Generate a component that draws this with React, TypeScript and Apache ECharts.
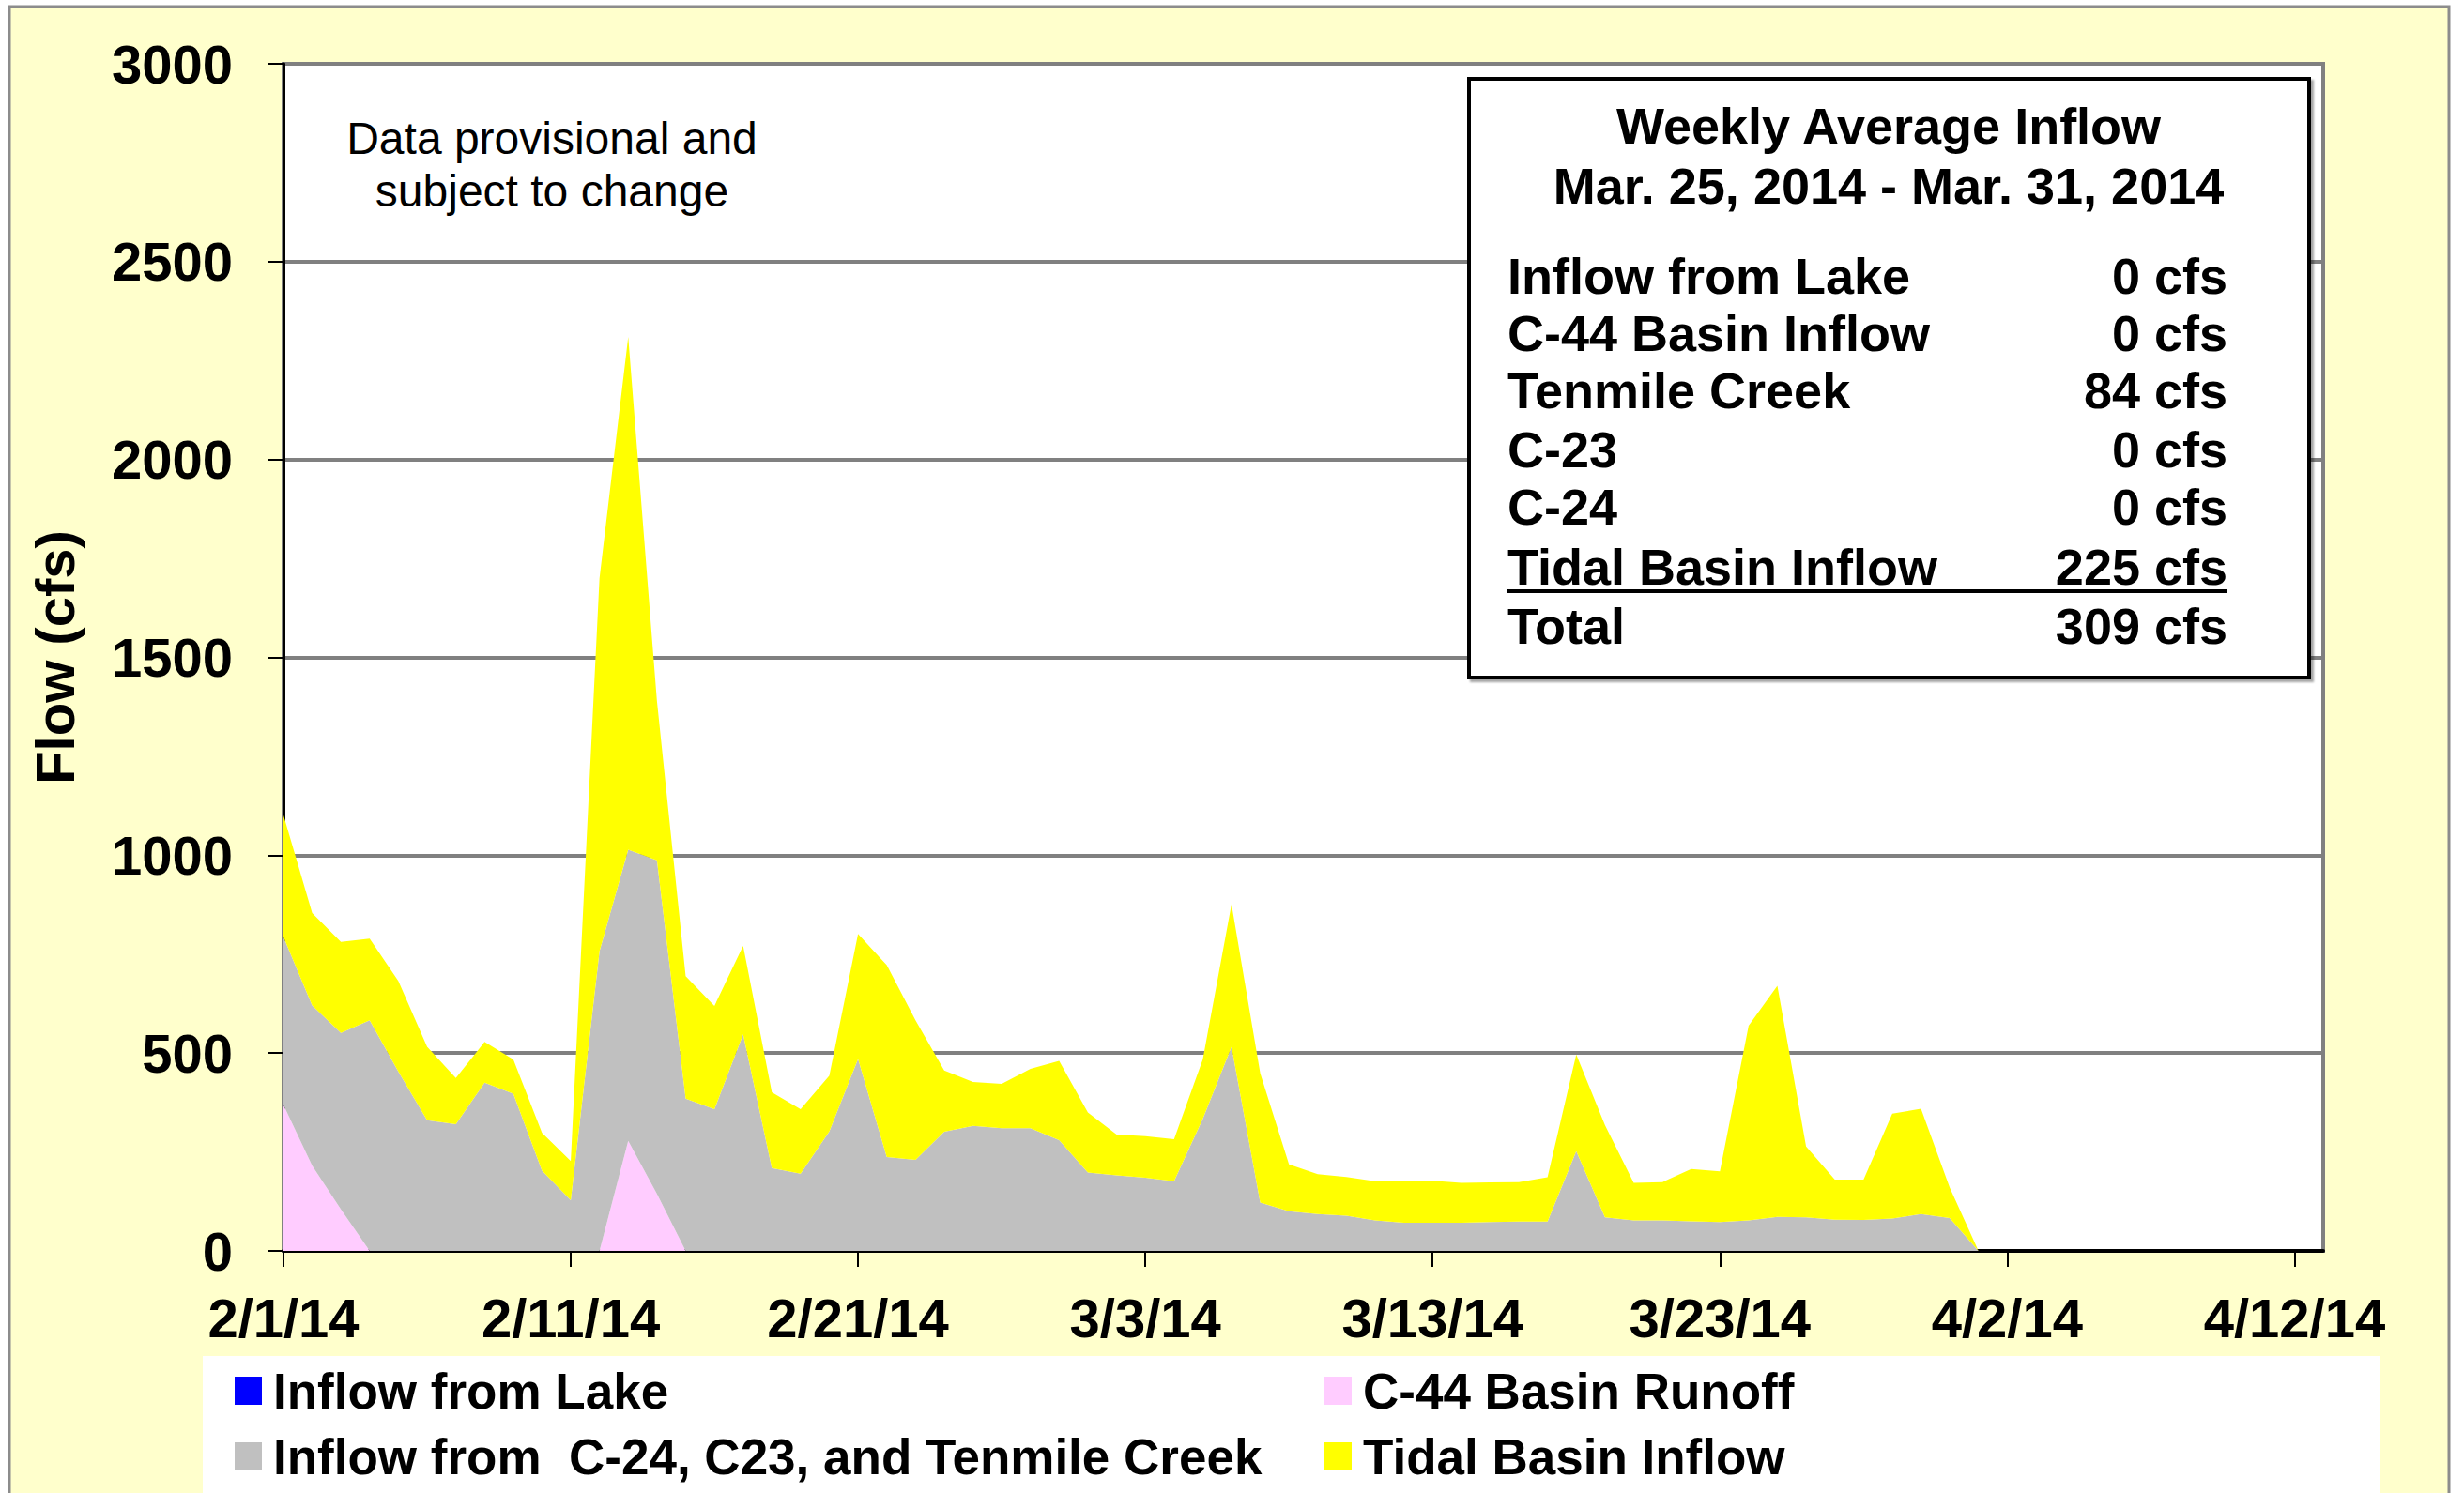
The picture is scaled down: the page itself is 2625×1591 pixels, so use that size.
import React, { useEffect, useRef } from "react";
import * as echarts from "echarts";

const FONT = '"Liberation Sans", Arial, sans-serif';

// Daily categories, 2/1/14 through 4/13/14 (axis extent)
const days = [
  "2/1/14", "2/2/14", "2/3/14", "2/4/14", "2/5/14", "2/6/14", "2/7/14", "2/8/14", "2/9/14", "2/10/14",
  "2/11/14", "2/12/14", "2/13/14", "2/14/14", "2/15/14", "2/16/14", "2/17/14", "2/18/14", "2/19/14", "2/20/14",
  "2/21/14", "2/22/14", "2/23/14", "2/24/14", "2/25/14", "2/26/14", "2/27/14", "2/28/14", "3/1/14", "3/2/14",
  "3/3/14", "3/4/14", "3/5/14", "3/6/14", "3/7/14", "3/8/14", "3/9/14", "3/10/14", "3/11/14", "3/12/14",
  "3/13/14", "3/14/14", "3/15/14", "3/16/14", "3/17/14", "3/18/14", "3/19/14", "3/20/14", "3/21/14", "3/22/14",
  "3/23/14", "3/24/14", "3/25/14", "3/26/14", "3/27/14", "3/28/14", "3/29/14", "3/30/14", "3/31/14", "4/1/14",
  "4/2/14", "4/3/14", "4/4/14", "4/5/14", "4/6/14", "4/7/14", "4/8/14", "4/9/14", "4/10/14", "4/11/14",
  "4/12/14", "4/13/14",
];

// Inflow from Lake (cfs), 2/1 - 4/1
const lakeInflow = [
  0, 0, 0, 0, 0, 0, 0, 0, 0, 0, 0, 0, 0, 0, 0, 0, 0, 0, 0, 0,
  0, 0, 0, 0, 0, 0, 0, 0, 0, 0, 0, 0, 0, 0, 0, 0, 0, 0, 0, 0,
  0, 0, 0, 0, 0, 0, 0, 0, 0, 0, 0, 0, 0, 0, 0, 0, 0, 0, 0, 0,
];

// C-44 Basin Runoff (cfs)
const c44Runoff = [
  369, 215, 105, 0, 0, 0, 0, 0, 0, 0, 0, 0, 278, 144, 0, 0, 0, 0, 0, 0,
  0, 0, 0, 0, 0, 0, 0, 0, 0, 0, 0, 0, 0, 0, 0, 0, 0, 0, 0, 0,
  0, 0, 0, 0, 0, 0, 0, 0, 0, 0, 0, 0, 0, 0, 0, 0, 0, 0, 0, 0,
];

// Inflow from C-24, C-23 and Tenmile Creek (cfs)
const basinInflow = [
  424, 405, 446, 583, 453, 330, 320, 425, 397, 203, 128, 757, 736, 843, 385, 358, 547, 209, 195, 302,
  485, 237, 230, 301, 316, 310, 310, 280, 198, 191, 185, 176, 334, 516, 122, 100, 93, 89, 77, 71,
  71, 71, 73, 74, 74, 252, 85, 77, 77, 75, 73, 77, 86, 85, 79, 78, 82, 93, 83, 0,
];

// Tidal Basin Inflow (cfs)
const tidalInflow = [
  308, 234, 230, 206, 229, 186, 117, 103, 87, 95, 99, 943, 1296, 403, 309, 261, 224, 192, 163, 141,
  316, 485, 353, 155, 111, 112, 150, 200, 152, 103, 105, 106, 150, 360, 327, 119, 101, 98, 99, 106,
  106, 101, 100, 100, 112, 244, 233, 95, 97, 132, 128, 492, 584, 179, 101, 102, 265, 266, 77, 0,
];

const yTicks = [0, 500, 1000, 1500, 2000, 2500, 3000];

const seriesNames = [
  "Inflow from Lake",
  "C-44 Basin Runoff",
  "Inflow from  C-24, C23, and Tenmile Creek",
  "Tidal Basin Inflow",
];
const seriesColors = ["#0000FF", "#FFCCFF", "#C0C0C0", "#FFFF00"];

const summaryLabels = ["Inflow from Lake", "C-44 Basin Inflow", "Tenmile Creek", "C-23", "C-24", "Tidal Basin Inflow", "Total"];
const summaryValues = ["0 cfs", "0 cfs", "84 cfs", "0 cfs", "0 cfs", "225 cfs", "309 cfs"];

export default function App() {
  const ref = useRef<HTMLDivElement>(null);
  useEffect(() => {
    if (!ref.current) return;
    const chart = echarts.init(ref.current, undefined, { renderer: "svg" });
    const allSeries = [lakeInflow, c44Runoff, basinInflow, tidalInflow];
    const series = allSeries.map((vals, i) => ({
      name: seriesNames[i],
      type: "line",
      stack: "flow",
      showSymbol: false,
      symbol: "none",
      lineStyle: { width: 0 },
      itemStyle: { color: seriesColors[i] },
      areaStyle: { color: seriesColors[i], opacity: 1 },
      z: 2,
      data: vals,
    }));

    const rowY = [294, 355, 416, 479, 540, 604, 667];
    const BOXZ = 100;
    const boxChildren: any[] = [
      {
        type: "rect",
        z: BOXZ,
        shape: { x: 1565, y: 84, width: 895, height: 638 },
        style: { fill: "#ffffff", stroke: "#000000", lineWidth: 4, shadowColor: "rgba(0,0,0,0.35)", shadowOffsetX: 3, shadowOffsetY: 3, shadowBlur: 2 },
      },
      {
        type: "text",
        z: BOXZ + 1,
        style: { text: "Weekly Average Inflow", x: 2012, y: 134, textAlign: "center", verticalAlign: "middle", fill: "#000", font: `bold 54px ${FONT}` },
      },
      {
        type: "text",
        z: BOXZ + 1,
        style: { text: "Mar. 25, 2014 - Mar. 31, 2014", x: 2012, y: 198, textAlign: "center", verticalAlign: "middle", fill: "#000", font: `bold 54px ${FONT}` },
      },
      {
        type: "line",
        z: BOXZ + 1,
        shape: { x1: 1605, y1: 630, x2: 2373, y2: 630 },
        style: { stroke: "#000", lineWidth: 4 },
      },
    ];
    summaryLabels.forEach((lab, i) => {
      boxChildren.push({
        type: "text",
        z: BOXZ + 1,
        style: { text: lab, x: 1606, y: rowY[i], textAlign: "left", verticalAlign: "middle", fill: "#000", font: `bold 54px ${FONT}` },
      });
      boxChildren.push({
        type: "text",
        z: BOXZ + 1,
        style: { text: summaryValues[i], x: 2373, y: rowY[i], textAlign: "right", verticalAlign: "middle", fill: "#000", font: `bold 54px ${FONT}` },
      });
    });

    const legendText = { fontSize: 53, fontWeight: "bold", color: "#000", fontFamily: FONT, lineHeight: 56, padding: [0, 0, 0, 7] };

    chart.setOption({
      animation: false,
      backgroundColor: "#ffffff",
      grid: {
        left: 302,
        top: 68,
        width: 2173,
        height: 1265,
        show: true,
        backgroundColor: "#ffffff",
        borderColor: "#808080",
        borderWidth: 4,
        containLabel: false,
      },
      xAxis: {
        type: "category",
        data: days,
        boundaryGap: false,
        axisLine: { show: true, onZero: false, lineStyle: { color: "#000", width: 4 } },
        axisTick: { show: true, inside: false, length: 17, interval: 9, lineStyle: { color: "#000", width: 2 } },
        axisLabel: {
          interval: 9,
          margin: 42,
          fontSize: 58,
          fontWeight: "bold",
          color: "#000",
          fontFamily: FONT,
        },
        splitLine: { show: false },
      },
      yAxis: {
        type: "value",
        min: yTicks[0],
        max: yTicks[yTicks.length - 1],
        interval: yTicks[1] - yTicks[0],
        name: "Flow (cfs)",
        nameLocation: "middle",
        nameGap: 215,
        nameRotate: 90,
        nameTextStyle: { fontSize: 58, fontWeight: "bold", color: "#000", fontFamily: FONT },
        axisLine: { show: true, lineStyle: { color: "#000", width: 3 } },
        axisTick: { show: true, inside: false, length: 17, lineStyle: { color: "#000", width: 2 } },
        axisLabel: {
          margin: 54,
          fontSize: 58,
          fontWeight: "bold",
          color: "#000",
          fontFamily: FONT,
          formatter: (v: number) => String(v),
        },
        splitLine: { show: true, lineStyle: { color: "#808080", width: 4 } },
      },
      legend: [
        {
          data: [seriesNames[0], seriesNames[2]],
          orient: "vertical",
          left: 245,
          top: 1449,
          itemWidth: 29,
          itemHeight: 30,
          itemGap: 14,
          icon: "rect",
          selectedMode: false,
          textStyle: legendText,
        },
        {
          data: [seriesNames[1], seriesNames[3]],
          orient: "vertical",
          left: 1406,
          top: 1449,
          itemWidth: 29,
          itemHeight: 30,
          itemGap: 14,
          icon: "rect",
          selectedMode: false,
          textStyle: legendText,
        },
      ],
      graphic: [
        {
          type: "rect",
          z: -100,
          silent: true,
          shape: { x: 10, y: 7, width: 2599, height: 1620 },
          style: { fill: "#FFFFCC", stroke: "#8c8c8c", lineWidth: 3 },
        },
        {
          type: "rect",
          z: -90,
          silent: true,
          shape: { x: 216, y: 1445, width: 2320, height: 200 },
          style: { fill: "#ffffff" },
        },
        {
          type: "text",
          z: 50,
          style: {
            text: "Data provisional and\nsubject to change",
            x: 588,
            y: 175,
            textAlign: "center",
            verticalAlign: "middle",
            fill: "#000",
            font: `48px ${FONT}`,
            lineHeight: 56,
          },
        },
        {
          type: "group",
          z: BOXZ,
          children: boxChildren,
        },
      ],
      series,
    });
    return () => chart.dispose();
  }, []);
  return <div ref={ref} style={{ position: "fixed", left: 0, top: 0, width: 2625, height: 1591 }} />;
}
